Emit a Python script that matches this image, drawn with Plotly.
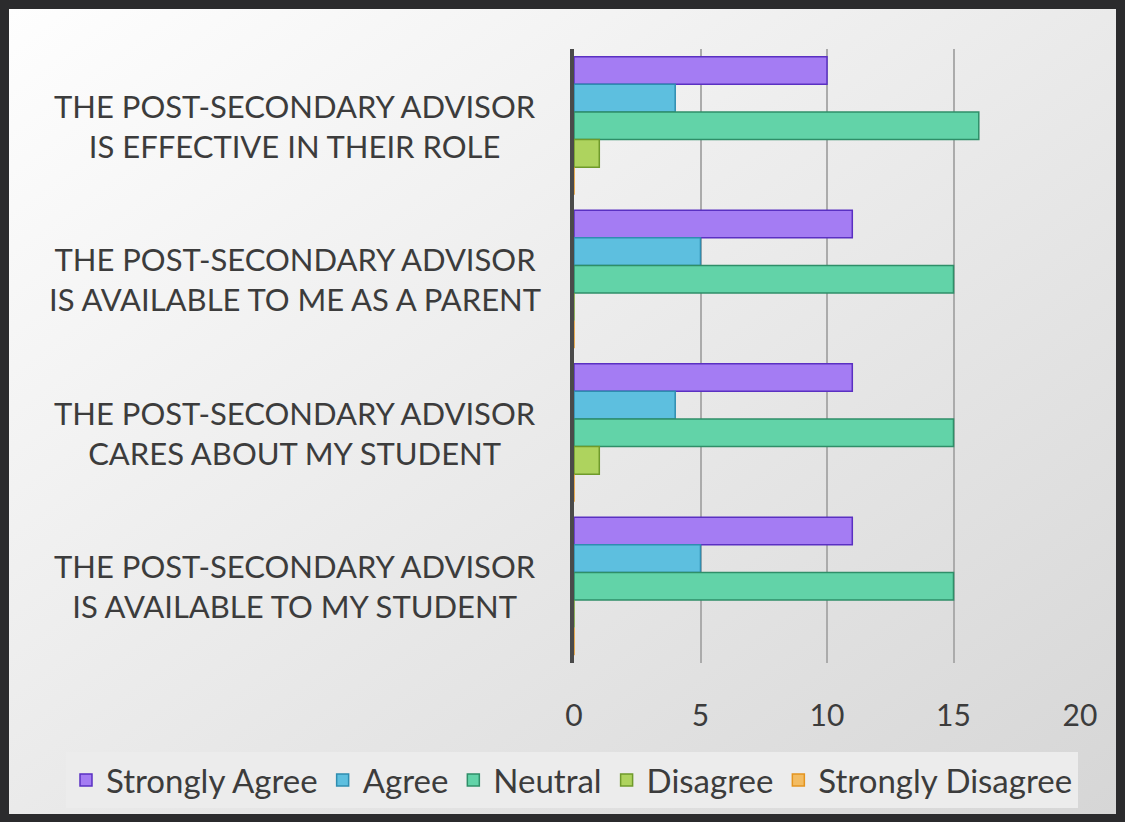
import base64
import plotly.graph_objects as go

categories = [
    "THE POST-SECONDARY ADVISOR<br>IS EFFECTIVE IN THEIR ROLE",
    "THE POST-SECONDARY ADVISOR<br>IS AVAILABLE TO ME AS A PARENT",
    "THE POST-SECONDARY ADVISOR<br>CARES ABOUT MY STUDENT",
    "THE POST-SECONDARY ADVISOR<br>IS AVAILABLE TO MY STUDENT",
]
series_names = ["Strongly Agree", "Agree", "Neutral", "Disagree", "Strongly Disagree"]
strongly_agree = [10, 11, 11, 11]
agree = [4, 5, 4, 5]
neutral = [16, 15, 15, 15]
disagree = [1, 0, 1, 0]
strongly_disagree = [0, 0, 0, 0]
series_values = [strongly_agree, agree, neutral, disagree, strongly_disagree]
fill_colors = ["#A47CF3", "#5DBFDF", "#62D3A8", "#AED35E", "#F3BC62"]
line_colors = ["#5A30C2", "#2F8DB0", "#2F8E68", "#6F9A2B", "#E3941F"]
x_ticks = [0, 5, 10, 15, 20]

W_PX, H_PX = 1125, 822
L, R, T, B = 574, 45, 49, 159
PW, PH = W_PX - L - R, H_PX - T - B


def px_x(p):  # screen pixel -> paper x
    return (p - L) / PW


def px_y(p):  # screen pixel -> paper y
    return 1 - (p - T) / PH


fig = go.Figure()
for name, vals, fc, lc in zip(series_names, series_values, fill_colors, line_colors):
    fig.add_trace(go.Bar(
        y=categories, x=vals, name=name, orientation="h",
        marker=dict(color=fc, line=dict(color=lc, width=1.5)),
    ))

svg = (
    f'<svg xmlns="http://www.w3.org/2000/svg" width="{W_PX}" height="{H_PX}">'
    '<defs><linearGradient id="g" x1="0" y1="0" x2="1" y2="1">'
    '<stop offset="0" stop-color="#FEFEFE"/><stop offset="1" stop-color="#D6D6D6"/>'
    '</linearGradient></defs>'
    f'<rect width="{W_PX}" height="{H_PX}" fill="#2B2B2D"/>'
    f'<rect x="9" y="9" width="{W_PX-18}" height="{H_PX-17}" fill="url(#g)"/>'
    '</svg>'
)
src = "data:image/svg+xml;base64," + base64.b64encode(svg.encode()).decode()

annotations = []
for c in categories:
    annotations.append(dict(
        x=px_x(295), xref="paper", y=c, yref="y",
        text=c, showarrow=False, xanchor="center", yanchor="middle",
        align="center", font=dict(family="Lato", size=31, color="#3C3C3C"),
    ))

fig.update_layout(
    width=W_PX, height=H_PX,
    margin=dict(l=L, r=R, t=T, b=B, pad=0, autoexpand=False),
    paper_bgcolor="#2B2B2D", plot_bgcolor="rgba(0,0,0,0)",
    barmode="group", bargap=0.1, bargroupgap=0,
    font=dict(family="Lato", color="#3C3C3C"),
    images=[dict(source=src, xref="paper", yref="paper",
                 x=px_x(0), y=px_y(0), sizex=W_PX / PW, sizey=H_PX / PH,
                 xanchor="left", yanchor="top", sizing="stretch", layer="below")],
    xaxis=dict(range=[0, 20], tickvals=x_ticks, showgrid=True,
               gridcolor="#ABABAB", gridwidth=1.5, zeroline=False,
               showline=False, ticks="", ticklabelstandoff=32,
               tickfont=dict(family="Lato", size=30, color="#3C3C3C")),
    yaxis=dict(autorange="reversed", showticklabels=False, showgrid=False,
               zeroline=False, showline=True, linecolor="#4A4A4A", linewidth=4,
               ticks=""),
    legend=dict(orientation="h", xref="paper", yref="paper",
                x=px_x(66), y=px_y(780), xanchor="left", yanchor="middle",
                bgcolor="#ECECEC", font=dict(family="Lato", size=33, color="#3C3C3C"),
                itemwidth=30, traceorder="normal"),
    annotations=annotations,
    showlegend=True,
)

fig.write_html(
    "out.html",
    config={"displayModeBar": False},
    post_script="document.body.style.margin='0';document.body.style.background='#2B2B2D';",
)
